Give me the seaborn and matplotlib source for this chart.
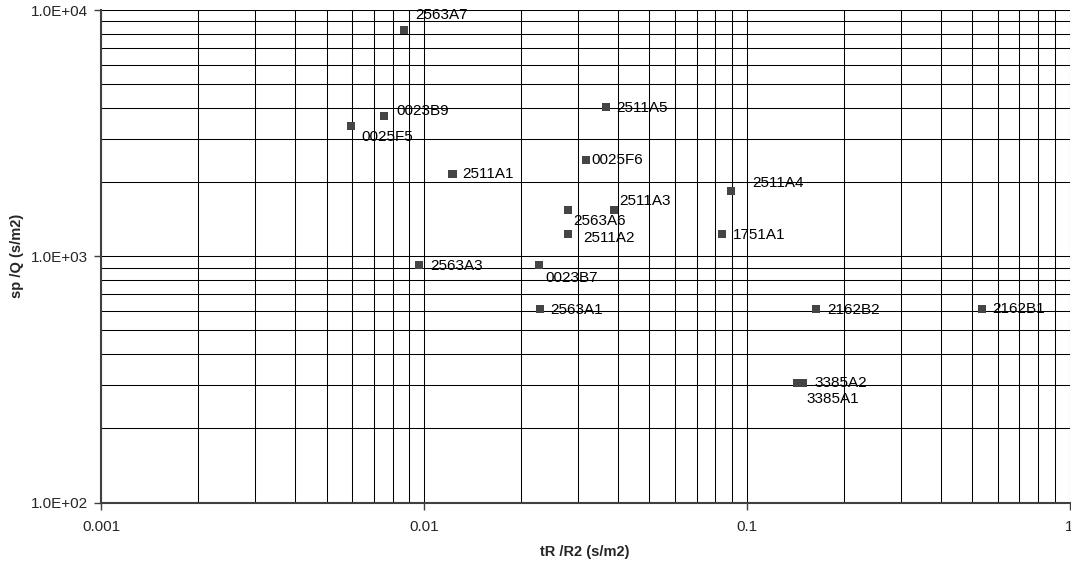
import numpy as np
import pandas as pd
import matplotlib
matplotlib.use("Agg")
import matplotlib.pyplot as plt
from matplotlib.ticker import LogLocator, FixedLocator, FuncFormatter, NullFormatter
import seaborn as sns

# Well test results: ratio values per well
wells = ["2563A7", "0023B9", "0025F5", "2511A1", "2511A5", "0025F6", "2511A3",
         "2563A6", "2511A2", "2511A4", "1751A1", "2563A3", "0023B7", "2563A1",
         "2162B2", "2162B1", "3385A2", "3385A1"]
tR_R2 = [0.0087, 0.00753, 0.00595, 0.01227, 0.0367, 0.0317, 0.0388,
         0.0280, 0.0280, 0.0895, 0.0839, 0.00966, 0.0227, 0.0229,
         0.164, 0.536, 0.1496, 0.1433]
sp_Q = [8300, 3710, 3380, 2160, 4040, 2460, 1540,
        1540, 1230, 1840, 1230, 921, 921, 610,
        610, 610, 305, 305]

# label offsets in pixels (dx, dy), dy positive = downward
label_offsets = {
    "2563A7": (11, -15), "0023B9": (12, -5), "0025F5": (10, 11),
    "2511A1": (10, 0), "2511A5": (10, 1), "0025F6": (6, 0),
    "2511A3": (5, -9), "2563A6": (5, 11), "2511A2": (15, 4),
    "2511A4": (21, -8), "1751A1": (11, 1), "2563A3": (11, 1),
    "0023B7": (7, 13), "2563A1": (10, 1), "2162B2": (11, 1),
    "2162B1": (10, 0), "3385A2": (11, 0), "3385A1": (9, 16),
}

df = pd.DataFrame({"well": wells, "tR/R2": tR_R2, "sp/Q": sp_Q})

sns.set_style("white")
plt.rcParams["font.family"] = ["Liberation Sans", "DejaVu Sans"]

dpi = 100
fig = plt.figure(figsize=(1071 / dpi, 566 / dpi), dpi=dpi)
ax = fig.add_axes([101 / 1071, 1 - 502.5 / 566, (1069.5 - 101) / 1071, (502.5 - 10) / 566])

ax.set_xscale("log")
ax.set_yscale("log")
ax.set_xlim(0.001, 1)
ax.set_ylim(100, 10000)

sns.scatterplot(data=df, x="tR/R2", y="sp/Q", marker="s", s=34, color="#454545",
                edgecolor="none", linewidth=0, ax=ax, zorder=3, legend=False)

for w, xv, yv in zip(wells, tR_R2, sp_Q):
    dx, dy = label_offsets[w]
    ax.annotate(w, (xv, yv), xytext=(dx * 72 / dpi, -dy * 72 / dpi),
                textcoords="offset points", ha="left", va="center",
                fontsize=11, color="black", zorder=4)

ax.xaxis.set_major_locator(FixedLocator([0.001, 0.01, 0.1, 1]))
ax.yaxis.set_major_locator(FixedLocator([100, 1000, 10000]))
ax.xaxis.set_minor_locator(LogLocator(base=10, subs=np.arange(2, 10)))
ax.yaxis.set_minor_locator(LogLocator(base=10, subs=np.arange(2, 10)))
ax.xaxis.set_minor_formatter(NullFormatter())
ax.yaxis.set_minor_formatter(NullFormatter())
ax.xaxis.set_major_formatter(FuncFormatter(lambda v, p: f"{v:g}"))
ax.yaxis.set_major_formatter(FuncFormatter(lambda v, p: f"{v:.1E}"))

ax.grid(True, which="both", color="black", linewidth=0.75)
ax.set_axisbelow(True)

ax.tick_params(axis="both", which="major", direction="out", length=5, width=1,
               color="#404040", labelsize=11, left=True, bottom=True)
ax.tick_params(axis="x", which="major", pad=7.5)
ax.tick_params(axis="y", which="major", pad=4)
ax.tick_params(axis="both", which="minor", length=0)

for side in ["top", "right"]:
    ax.spines[side].set_visible(False)
for side in ["left", "bottom"]:
    ax.spines[side].set_color("#404040")
    ax.spines[side].set_linewidth(1.5)

ax.set_xlabel("tR /R2 (s/m2)", fontsize=10.5, fontweight="bold", labelpad=8)
ax.set_ylabel("sp /Q (s/m2)", fontsize=10.5, fontweight="bold", labelpad=5.5)

fig.savefig("out.png", dpi=dpi)
